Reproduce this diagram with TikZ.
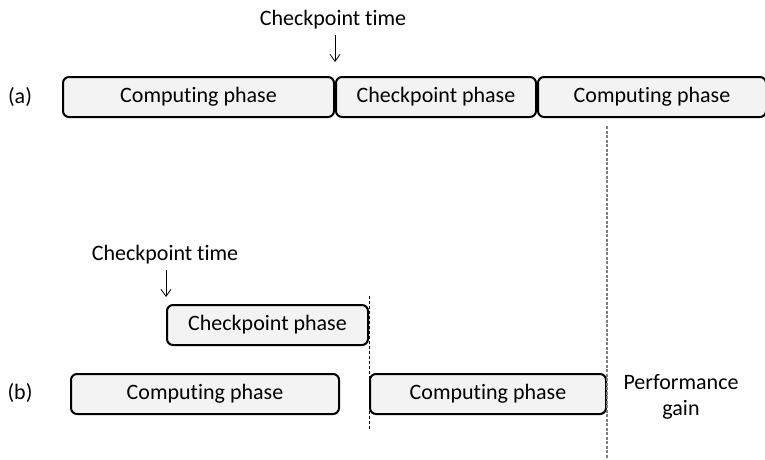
\documentclass[tikz,border=0pt]{standalone}
\usepackage{fontspec}
\setmainfont{Carlito}[Ligatures=NoCommon]
\usetikzlibrary{positioning,arrows.meta}
\definecolor{phasefill}{HTML}{F2F3F2}

\begin{document}
\begin{tikzpicture}[x=1pt,y=-1pt,font=\fontsize{22}{26}\selectfont,
	phasebox/.style={draw, line width=2pt, rounded corners=6pt, fill=phasefill, minimum height=40pt, inner sep=0pt},
	timearrow/.style={-{Straight Barb[length=7pt,width=10pt]}, line width=0.8pt},
	gainline/.style={gray, line width=1.2pt, dash pattern=on 3pt off 1.5pt},
	cutline/.style={black, line width=1pt, dash pattern=on 3pt off 2pt}]
	\useasboundingbox (0,0) rectangle (765,460);
	% (a): checkpoint in the middle of the run
	\node (alab) at (20,97) {(a)};
	\node[phasebox, minimum width=271pt, anchor=west] (acomp1) at (62,97) {Computing phase};
	\node[phasebox, minimum width=200pt, right=0pt of acomp1] (acp) {Checkpoint phase};
	\node[phasebox, minimum width=228pt, right=0pt of acp] (acomp2) {Computing phase};
	\node (atime) at (333,20) {Checkpoint time};
	\draw[timearrow, shorten <=2pt, shorten >=14pt] (atime.south -| acp.west) -- (acp.north west);
	% (b): checkpoint beside the run
	\node (blab) at (20,393) {(b)};
	\node[phasebox, minimum width=201pt, anchor=west] (bcp) at (166,325) {Checkpoint phase};
	\node[phasebox, minimum width=268pt, anchor=west] (bcomp1) at (70,394) {Computing phase};
	\node[phasebox, minimum width=236pt, anchor=west] (bcomp2) at (bcp.east |- bcomp1) {Computing phase};
	\node (btime) at (165,255) {Checkpoint time};
	\draw[timearrow, shorten <=2pt, shorten >=7pt] (btime.south -| bcp.west) -- (bcp.north west);
	\draw[cutline] ([yshift=8pt]bcp.north east) -- ([yshift=-14pt]bcomp2.south west);
	% gain
	\draw[gainline] ([yshift=-8pt]acomp2.south -| bcomp2.east) -- ([yshift=-44pt]bcomp2.south east);
	\node[align=center] (gain) at (681,397) {Performance\\gain};
\end{tikzpicture}
\end{document}
